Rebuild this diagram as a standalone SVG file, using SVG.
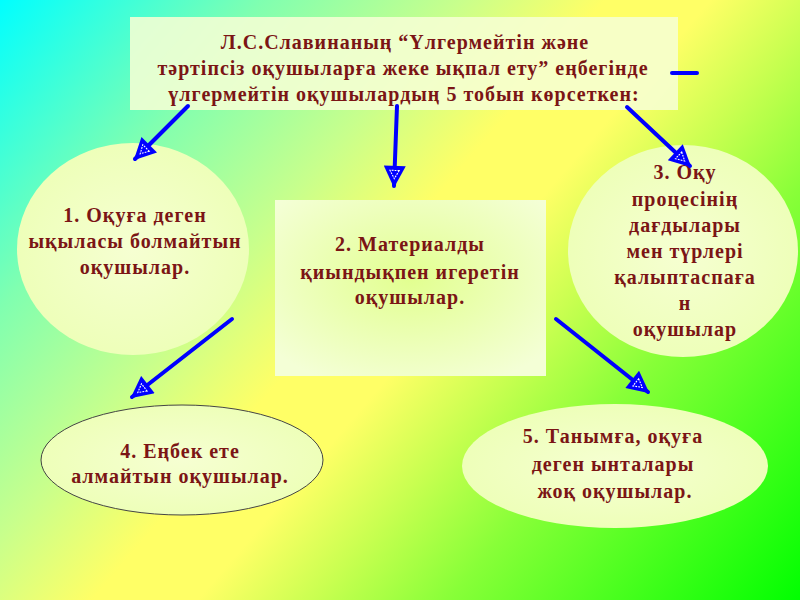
<svg xmlns="http://www.w3.org/2000/svg" width="800" height="600" viewBox="0 0 800 600">
<defs>
<linearGradient id="bg" gradientUnits="userSpaceOnUse" x1="0" y1="0" x2="760" y2="650">
<stop offset="0" stop-color="#00ffff"/>
<stop offset="0.2" stop-color="#80ffb0"/>
<stop offset="0.35" stop-color="#c8ff8c"/>
<stop offset="0.46" stop-color="#ffff66"/>
<stop offset="0.54" stop-color="#ffff66"/>
<stop offset="0.63" stop-color="#c8ff50"/>
<stop offset="0.73" stop-color="#88ff38"/>
<stop offset="1" stop-color="#00ff00"/>
</linearGradient>
<radialGradient id="nodeFill" cx="0.5" cy="0.5" r="0.6">
<stop offset="0" stop-color="#f6ffd2"/>
<stop offset="1" stop-color="#ecffb4"/>
</radialGradient>
<radialGradient id="rectFill" cx="0.5" cy="0.45" r="0.65">
<stop offset="0" stop-color="#e2ff90"/>
<stop offset="1" stop-color="#f4ffd6"/>
</radialGradient>
<marker id="ah" viewBox="0 0 12 12" refX="11" refY="6" markerWidth="6" markerHeight="5.5" orient="auto" markerUnits="strokeWidth">
<path d="M0,0 L12,6 L0,12 Z" fill="#0000ff"/>
<path d="M2.5,3.5 L7,6 L2.5,8.5 Z" fill="none" stroke="#ffffff" stroke-width="0.6" stroke-dasharray="1 0.6"/>
</marker>
<style>
.t{font-family:"Liberation Serif","DejaVu Serif",serif;font-weight:bold;fill:#7b1515;text-anchor:middle;letter-spacing:1px}
.tt{font-size:20px}
.nt{font-size:20px}
.arr{stroke:#0000ff;stroke-width:4;stroke-linecap:round;fill:none;marker-end:url(#ah)}
</style>
</defs>
<rect width="800" height="600" fill="url(#bg)"/>

<g id="title">
<rect x="130" y="17" width="548" height="93" fill="#f6ffd4" opacity="0.88"/>
<text class="t tt" x="405" y="49">Л.С.Славинаның “Үлгермейтін және</text>
<text class="t tt" x="403" y="75">тәртіпсіз оқушыларға жеке ықпал ету”  еңбегінде</text>
<text class="t tt" x="404" y="101">үлгермейтін оқушылардың 5 тобын  көрсеткен:</text>
</g>

<g id="node1">
<ellipse cx="133" cy="249" rx="116" ry="106" fill="url(#nodeFill)"/>
<text class="t nt" x="135" y="222">1. Оқуға деген</text>
<text class="t nt" x="135" y="248">ықыласы болмайтын</text>
<text class="t nt" x="135" y="274">оқушылар.</text>
</g>

<g id="node2">
<rect x="275" y="200" width="271" height="176" fill="url(#rectFill)"/>
<text class="t nt" x="410" y="251">2. Материалды</text>
<text class="t nt" x="410" y="279">қиындықпен игеретін</text>
<text class="t nt" x="410" y="304">оқушылар.</text>
</g>

<g id="node3">
<ellipse cx="683" cy="251" rx="115" ry="106" fill="url(#nodeFill)"/>
<text class="t nt" x="685" y="179">3. Оқу</text>
<text class="t nt" x="685" y="206">процесінің</text>
<text class="t nt" x="685" y="232">дағдылары</text>
<text class="t nt" x="685" y="258">мен түрлері</text>
<text class="t nt" x="685" y="284">қалыптаспаға</text>
<text class="t nt" x="685" y="310">н</text>
<text class="t nt" x="685" y="336">оқушылар</text>
</g>

<g id="node4">
<ellipse cx="182" cy="460" rx="141" ry="55" fill="url(#nodeFill)" stroke="#444444" stroke-width="1"/>
<text class="t nt" x="180" y="458">4. Еңбек ете</text>
<text class="t nt" x="180" y="483">алмайтын оқушылар.</text>
</g>

<g id="node5">
<ellipse cx="615" cy="466" rx="153" ry="62" fill="url(#nodeFill)"/>
<text class="t nt" x="613" y="443">5. Танымға, оқуға</text>
<text class="t nt" x="613" y="471">деген ынталары</text>
<text class="t nt" x="615" y="498">жоқ оқушылар.</text>
</g>

<g id="connectors">
<line class="arr" x1="188" y1="106" x2="135" y2="159"/>
<line class="arr" x1="397" y1="106" x2="394" y2="186"/>
<line class="arr" x1="627" y1="107" x2="690" y2="166"/>
<line class="arr" x1="232" y1="319" x2="132" y2="397"/>
<line class="arr" x1="556" y1="319" x2="648" y2="392"/>
<line x1="672" y1="73" x2="697" y2="73" stroke="#0000ff" stroke-width="4" stroke-linecap="round"/>
</g>
</svg>
